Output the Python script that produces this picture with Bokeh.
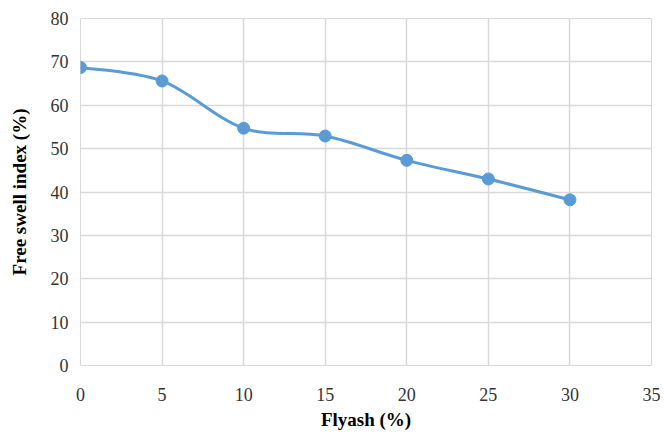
from bokeh.plotting import figure
from bokeh.models import Range1d, FixedTicker
from bokeh.embed import file_html
from bokeh.resources import INLINE
import numpy as np

flyash = [0, 5, 10, 15, 20, 25, 30]
swell = [68.7, 65.6, 54.7, 52.9, 47.3, 43.0, 38.2]
x_ticks = [0, 5, 10, 15, 20, 25, 30, 35]
y_ticks = [0, 10, 20, 30, 40, 50, 60, 70, 80]

COLOR = "#5b9bd5"
GRID = "#d9d9d9"
FONT = "Liberation Serif"

p = figure(width=662, height=432, output_backend="svg", toolbar_location=None,
           x_range=Range1d(0, 35), y_range=Range1d(0, 80),
           min_border_left=80, min_border_right=11, min_border_top=18, min_border_bottom=66)
p.outline_line_color = GRID
p.background_fill_color = "white"

# smooth curve (Catmull-Rom style Bezier segments, like spreadsheet smoothing)
xs = np.array(flyash, dtype=float)
ys = np.array(swell, dtype=float)
n = len(xs)
x0, y0, x1, y1, cx0, cy0, cx1, cy1 = [], [], [], [], [], [], [], []
for i in range(n - 1):
    pm = (xs[max(i - 1, 0)], ys[max(i - 1, 0)])
    pa = (xs[i], ys[i])
    pb = (xs[i + 1], ys[i + 1])
    pn = (xs[min(i + 2, n - 1)], ys[min(i + 2, n - 1)])
    x0.append(pa[0]); y0.append(pa[1]); x1.append(pb[0]); y1.append(pb[1])
    cx0.append(pa[0] + (pb[0] - pm[0]) / 6); cy0.append(pa[1] + (pb[1] - pm[1]) / 6)
    cx1.append(pb[0] - (pn[0] - pa[0]) / 6); cy1.append(pb[1] - (pn[1] - pa[1]) / 6)
p.bezier(x0=x0, y0=y0, x1=x1, y1=y1, cx0=cx0, cy0=cy0, cx1=cx1, cy1=cy1,
         line_color=COLOR, line_width=3)
p.scatter(flyash, swell, size=12, fill_color=COLOR, line_color=COLOR)

p.xaxis.ticker = FixedTicker(ticks=x_ticks)
p.yaxis.ticker = FixedTicker(ticks=y_ticks)
for ax in (p.xaxis[0], p.yaxis[0]):
    ax.axis_line_color = None
    ax.major_tick_line_color = None
    ax.minor_tick_line_color = None
    ax.major_tick_out = 0
    ax.major_tick_in = 0
    ax.major_label_text_font = FONT
    ax.major_label_text_font_size = "18px"
    ax.major_label_text_color = "#333333"
    ax.axis_label_text_font = FONT
    ax.axis_label_text_font_size = "19px"
    ax.axis_label_text_font_style = "bold"
    ax.axis_label_text_color = "black"
p.xaxis.major_label_standoff = 22
p.yaxis.major_label_standoff = 12
p.xaxis.axis_label = "Flyash (%)"
p.yaxis.axis_label = "Free swell index (%)"
p.xaxis.axis_label_standoff = 5
p.yaxis.axis_label_standoff = 18

p.xgrid.ticker = FixedTicker(ticks=x_ticks)
p.ygrid.ticker = FixedTicker(ticks=y_ticks)
p.grid.grid_line_color = GRID
p.grid.grid_line_width = 1.5

open("out.html", "w").write(file_html(p, INLINE))
